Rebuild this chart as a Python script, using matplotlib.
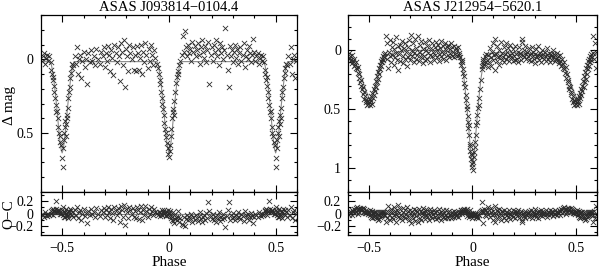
import matplotlib

matplotlib.use("Agg")
import matplotlib.pyplot as plt
import numpy as np
from matplotlib.ticker import FuncFormatter, MultipleLocator

plt.rcParams["font.family"] = ["Liberation Serif", "DejaVu Serif"]

TITLES = ["ASAS J093814\u22120104.4", "ASAS J212954\u22125620.1"]

# ---- ASAS J093814-0104.4: phase-folded data in [-0.5, 0.5) ----
L_PHASE = [
    -0.499, -0.497, -0.495, -0.492, -0.490, -0.487, -0.485, -0.483, -0.480, -0.478,
    -0.476, -0.474, -0.471, -0.468, -0.465, -0.462, -0.458, -0.455, -0.452, -0.448,
    -0.440, -0.435, -0.430, -0.425, -0.420, -0.415, -0.410, -0.405, -0.400, -0.395,
    -0.390, -0.385, -0.380, -0.370, -0.365, -0.360, -0.350, -0.345, -0.340, -0.330,
    -0.325, -0.320, -0.310, -0.305, -0.300, -0.295, -0.290, -0.285, -0.280, -0.275,
    -0.270, -0.265, -0.260, -0.255, -0.250, -0.245, -0.240, -0.235, -0.230, -0.225,
    -0.220, -0.215, -0.210, -0.205, -0.200, -0.195, -0.190, -0.185, -0.180, -0.175,
    -0.170, -0.165, -0.160, -0.155, -0.150, -0.145, -0.140, -0.135, -0.130, -0.125,
    -0.120, -0.115, -0.110, -0.105, -0.100, -0.095, -0.090, -0.085, -0.080, -0.075,
    -0.070, -0.065, -0.055, -0.050, -0.046, -0.043, -0.040, -0.037, -0.034, -0.031,
    -0.028, -0.025, -0.021, -0.018, -0.014, -0.010, -0.006, -0.003, 0.000, 0.003,
    0.006, 0.009, 0.012, 0.016, 0.019, 0.022, 0.026, 0.030, 0.034, 0.038,
    0.042, 0.047, 0.052, 0.060, 0.065, 0.070, 0.075, 0.080, 0.085, 0.090,
    0.095, 0.100, 0.105, 0.110, 0.115, 0.120, 0.125, 0.130, 0.135, 0.140,
    0.145, 0.150, 0.155, 0.160, 0.165, 0.170, 0.175, 0.180, 0.185, 0.190,
    0.195, 0.200, 0.205, 0.210, 0.215, 0.220, 0.225, 0.230, 0.235, 0.240,
    0.245, 0.250, 0.255, 0.260, 0.265, 0.270, 0.275, 0.280, 0.285, 0.290,
    0.295, 0.300, 0.305, 0.310, 0.315, 0.320, 0.325, 0.330, 0.335, 0.340,
    0.345, 0.350, 0.355, 0.360, 0.365, 0.370, 0.375, 0.380, 0.385, 0.390,
    0.395, 0.400, 0.405, 0.410, 0.415, 0.420, 0.425, 0.430, 0.435, 0.440,
    0.446, 0.450, 0.452, 0.455, 0.458, 0.460, 0.463, 0.466, 0.470, 0.473,
    0.476, 0.479, 0.482, 0.485, 0.488, 0.492, 0.495, 0.044, 0.018, -0.012,
]
L_MAG = [
    0.67, 0.73, 0.60, 0.55, 0.50, 0.46, 0.42, 0.52, 0.44, 0.38,
    0.40, 0.33, 0.26, 0.22, 0.19, 0.13, 0.09, 0.06, 0.03, 0.04,
    -0.02, 0.03, -0.08, 0.10, 0.00, -0.03, 0.13, 0.01, -0.05, 0.05,
    0.00, 0.17, -0.04, 0.02, -0.06, 0.01, -0.02, 0.04, -0.07, 0.00,
    0.03, -0.05, -0.02, -0.08, 0.05, -0.04, 0.01, -0.09, -0.03, 0.08,
    -0.06, -0.01, 0.11, -0.10, -0.04, 0.02, -0.08, -0.02, 0.15, -0.11,
    -0.05, 0.04, -0.13, 0.19, -0.07, -0.02, 0.08, -0.10, -0.04, 0.00,
    -0.08, 0.07, -0.03, 0.08, -0.09, -0.04, 0.07, -0.01, -0.10, 0.10,
    -0.05, 0.02, -0.11, -0.03, 0.06, -0.07, 0.01, -0.10, -0.03, 0.04,
    -0.06, -0.01, 0.03, 0.06, 0.10, 0.14, 0.17, 0.22, 0.26, 0.30,
    0.34, 0.38, 0.43, 0.47, 0.53, 0.57, 0.60, 0.64, 0.66, 0.62,
    0.58, 0.52, 0.47, 0.40, 0.34, 0.38, 0.28, 0.22, 0.16, 0.12,
    0.08, 0.04, 0.01, -0.03, -0.16, -0.05, -0.19, -0.08, -0.02, -0.10,
    -0.04, -0.07, 0.01, -0.12, -0.05, -0.09, -0.02, -0.06, -0.11, -0.03,
    0.03, -0.08, -0.13, -0.05, -0.01, -0.09, 0.02, -0.06, -0.12, 0.17,
    -0.03, -0.08, 0.01, -0.10, -0.05, -0.13, -0.02, -0.07, 0.04, -0.11,
    -0.04, -0.08, 0.00, -0.06, -0.21, -0.03, 0.07, 0.19, -0.09, -0.02,
    -0.06, 0.02, -0.05, -0.10, -0.01, -0.07, 0.03, -0.04, -0.08, 0.01,
    -0.03, -0.11, 0.05, -0.02, -0.06, 0.00, -0.09, -0.04, 0.02, -0.03,
    -0.14, -0.05, 0.01, -0.02, -0.04, 0.03, -0.01, -0.03, 0.01, -0.02,
    0.02, 0.07, 0.10, 0.14, 0.12, 0.18, 0.22, 0.26, 0.31, 0.36,
    0.35, 0.40, 0.46, 0.50, 0.52, 0.56, 0.58, 0.10, 0.36, 0.50,
]
L_RESID = [
    0.05, 0.11, -0.02, 0.03, -0.05, 0.02, -0.06, 0.08, 0.00, -0.04,
    0.03, -0.02, -0.08, 0.04, 0.07, -0.01, 0.05, -0.03, 0.02, -0.06,
    0.06, -0.03, 0.10, -0.08, 0.02, 0.05, -0.11, 0.00, 0.07, -0.04,
    0.01, -0.15, 0.04, -0.02, 0.08, -0.01, 0.03, -0.05, 0.09, 0.00,
    -0.04, 0.06, 0.02, 0.09, -0.06, 0.05, -0.02, 0.10, 0.03, -0.07,
    0.07, 0.01, -0.10, 0.11, 0.04, -0.03, 0.09, 0.02, -0.13, 0.12,
    0.06, -0.05, 0.14, -0.18, 0.08, 0.03, -0.07, 0.11, 0.05, 0.00,
    0.09, -0.06, 0.04, -0.08, 0.10, 0.05, -0.09, 0.02, 0.12, -0.11,
    0.06, -0.02, 0.12, 0.04, -0.05, 0.08, 0.00, 0.11, 0.04, -0.03,
    0.07, 0.02, 0.01, -0.02, 0.03, -0.04, 0.02, -0.01, 0.05, -0.03,
    0.02, 0.06, -0.01, 0.03, -0.04, 0.02, 0.05, -0.03, 0.01, 0.04,
    -0.02, -0.04, -0.08, -0.10, -0.12, -0.03, -0.15, -0.09, -0.06, -0.11,
    -0.05, -0.13, -0.07, -0.17, -0.18, -0.06, -0.20, -0.09, -0.03, -0.11,
    -0.05, -0.08, 0.00, -0.13, -0.06, -0.10, -0.03, -0.07, -0.12, -0.04,
    0.02, -0.09, -0.14, -0.06, -0.02, -0.10, 0.01, -0.07, 0.18, 0.04,
    -0.04, -0.09, 0.00, -0.11, -0.06, -0.14, -0.03, -0.08, 0.03, -0.12,
    -0.05, -0.09, -0.01, -0.07, -0.22, -0.04, 0.06, 0.18, -0.10, -0.03,
    -0.07, 0.01, -0.06, -0.11, -0.02, -0.08, 0.02, -0.05, -0.09, 0.00,
    -0.04, -0.12, 0.04, -0.03, -0.07, -0.01, -0.10, -0.05, 0.01, -0.04,
    -0.15, -0.06, 0.00, -0.03, -0.05, 0.02, -0.02, -0.04, 0.00, -0.03,
    0.00, 0.04, 0.05, 0.07, -0.02, 0.06, 0.04, 0.03, 0.20, 0.07,
    0.02, 0.03, 0.06, 0.05, 0.02, 0.00, -0.01, 0.04, 0.02, -0.03,
]
# fitted light curve: one eclipse profile (offset from minimum, mag)
L_ECL_DT = [-0.056, -0.05, -0.045, -0.04, -0.035, -0.03, -0.025, -0.02, -0.015, -0.01, -0.005,
            0.0, 0.005, 0.01, 0.015, 0.02, 0.025, 0.03, 0.035, 0.04, 0.045, 0.05, 0.056]
L_ECL_MAG = [0.016, 0.04, 0.08, 0.13, 0.19, 0.26, 0.33, 0.41, 0.49, 0.56, 0.61,
             0.635, 0.61, 0.56, 0.49, 0.41, 0.33, 0.26, 0.19, 0.13, 0.08, 0.04, 0.016]
L_ECL_CENTERS = [-0.5, 0.0, 0.5]

# ---- ASAS J212954-5620.1 ----
R_PHASE = [
    -0.498, -0.495, -0.492, -0.490, -0.487, -0.485, -0.482, -0.480, -0.477, -0.475,
    -0.472, -0.470, -0.467, -0.465, -0.462, -0.460, -0.457, -0.455, -0.452, -0.450,
    -0.447, -0.445, -0.442, -0.440, -0.437, -0.435, -0.432, -0.430, -0.427, -0.425,
    -0.420, -0.417, -0.413, -0.410, -0.407, -0.403, -0.400, -0.397, -0.393, -0.390,
    -0.387, -0.383, -0.380, -0.377, -0.373, -0.370, -0.367, -0.363, -0.360, -0.357,
    -0.353, -0.350, -0.347, -0.343, -0.340, -0.337, -0.333, -0.330, -0.327, -0.323,
    -0.320, -0.317, -0.313, -0.310, -0.307, -0.303, -0.300, -0.297, -0.293, -0.290,
    -0.287, -0.283, -0.280, -0.277, -0.273, -0.270, -0.267, -0.263, -0.260, -0.257,
    -0.253, -0.250, -0.247, -0.243, -0.240, -0.237, -0.233, -0.230, -0.227, -0.223,
    -0.220, -0.217, -0.213, -0.210, -0.207, -0.203, -0.200, -0.197, -0.193, -0.190,
    -0.187, -0.183, -0.180, -0.177, -0.173, -0.170, -0.167, -0.163, -0.160, -0.157,
    -0.153, -0.150, -0.147, -0.143, -0.140, -0.137, -0.133, -0.130, -0.127, -0.123,
    -0.120, -0.117, -0.113, -0.110, -0.107, -0.103, -0.100, -0.097, -0.093, -0.090,
    -0.087, -0.083, -0.080, -0.077, -0.073, -0.070, -0.067, -0.063, -0.060, -0.057,
    -0.054, -0.051, -0.048, -0.045, -0.042, -0.039, -0.036, -0.033, -0.030, -0.028,
    -0.026, -0.024, -0.022, -0.020, -0.018, -0.016, -0.014, -0.012, -0.010, -0.008,
    -0.006, -0.004, -0.002, 0.000, 0.002, 0.004, 0.006, 0.008, 0.011, 0.013,
    0.016, 0.019, 0.021, 0.024, 0.027, 0.030, 0.033, 0.036, 0.040, 0.044,
    0.047, 0.050, 0.053, 0.056, 0.060, 0.063, 0.067, 0.070, 0.073, 0.077,
    0.080, 0.083, 0.087, 0.090, 0.093, 0.097, 0.100, 0.103, 0.107, 0.110,
    0.113, 0.117, 0.120, 0.123, 0.127, 0.130, 0.133, 0.137, 0.140, 0.143,
    0.147, 0.150, 0.153, 0.157, 0.160, 0.163, 0.167, 0.170, 0.173, 0.177,
    0.180, 0.183, 0.187, 0.190, 0.193, 0.197, 0.200, 0.203, 0.207, 0.210,
    0.213, 0.217, 0.220, 0.223, 0.227, 0.230, 0.233, 0.237, 0.240, 0.243,
    0.247, 0.250, 0.253, 0.257, 0.260, 0.263, 0.267, 0.270, 0.273, 0.277,
    0.280, 0.283, 0.287, 0.290, 0.293, 0.297, 0.300, 0.303, 0.307, 0.310,
    0.313, 0.317, 0.320, 0.323, 0.327, 0.330, 0.333, 0.337, 0.340, 0.343,
    0.347, 0.350, 0.353, 0.357, 0.360, 0.363, 0.367, 0.370, 0.373, 0.377,
    0.380, 0.383, 0.387, 0.390, 0.393, 0.397, 0.400, 0.403, 0.407, 0.410,
    0.413, 0.417, 0.420, 0.423, 0.427, 0.430, 0.433, 0.437, 0.440, 0.443,
    0.446, 0.449, 0.452, 0.455, 0.458, 0.461, 0.464, 0.467, 0.470, 0.473,
    0.476, 0.479, 0.482, 0.485, 0.488, 0.491, 0.494, 0.497, -0.050, 0.052,
]
R_MAG = [
    0.44, 0.46, 0.41, 0.43, 0.39, 0.45, 0.36, 0.40, 0.33, 0.38,
    0.30, 0.34, 0.26, 0.31, 0.22, 0.27, 0.18, 0.24, 0.15, 0.20,
    0.12, 0.16, 0.09, 0.13, 0.07, 0.10, 0.05, 0.08, 0.03, 0.06,
    0.02, -0.12, 0.07, -0.06, 0.15, 0.01, -0.09, 0.05, 0.10, -0.03,
    0.04, -0.07, 0.12, -0.01, 0.06, -0.11, 0.02, 0.08, -0.04, 0.17,
    0.03, -0.05, 0.09, 0.00, -0.08, 0.05, 0.11, -0.02, 0.07, -0.06,
    0.01, 0.13, -0.03, 0.06, -0.09, 0.03, 0.08, -0.13, 0.00, 0.05,
    -0.06, 0.10, 0.02, -0.10, 0.07, -0.02, 0.04, -0.12, 0.09, 0.01,
    -0.05, 0.06, -0.08, 0.03, 0.11, -0.01, 0.05, -0.07, 0.08, 0.00,
    -0.04, 0.07, 0.02, -0.09, 0.04, 0.10, -0.02, 0.05, -0.06, 0.01,
    0.08, -0.03, 0.04, -0.07, 0.00, 0.06, -0.05, 0.03, 0.09, -0.02,
    0.05, -0.08, 0.01, 0.07, -0.04, 0.03, -0.06, 0.08, 0.00, -0.03,
    0.04, -0.05, 0.06, -0.01, 0.02, -0.06, 0.05, -0.03, 0.01, 0.06,
    -0.04, 0.03, -0.02, 0.05, 0.00, -0.03, 0.04, 0.02, 0.06, 0.09,
    0.12, 0.10, 0.16, 0.19, 0.22, 0.28, 0.31, 0.38, 0.42, 0.50,
    0.47, 0.56, 0.61, 0.66, 0.63, 0.72, 0.81, 0.79, 0.85, 0.88,
    0.92, 0.89, 0.96, 0.99, 1.01, 0.95, 0.90, 0.86, 0.82, 0.78,
    0.72, 0.63, 0.61, 0.55, 0.49, 0.46, 0.40, 0.33, 0.25, 0.16,
    0.13, 0.09, 0.07, 0.12, 0.05, 0.10, 0.03, 0.08, 0.14, 0.04,
    0.10, -0.02, 0.06, 0.13, 0.01, 0.08, -0.06, 0.04, -0.10, 0.17,
    0.03, 0.09, -0.04, 0.06, 0.12, 0.00, 0.05, -0.07, 0.08, 0.02,
    0.06, -0.03, 0.10, 0.03, -0.06, 0.07, 0.01, 0.05, -0.02, 0.09,
    0.04, -0.05, 0.06, 0.02, 0.09, -0.01, 0.05, 0.08, -0.04, 0.03,
    0.07, 0.01, 0.10, -0.03, 0.05, 0.02, 0.08, -0.07, -0.10, 0.04,
    0.00, 0.06, -0.04, 0.03, 0.07, 0.01, 0.05, -0.02, 0.08, 0.04,
    0.02, 0.09, -0.03, 0.05, 0.01, 0.07, 0.11, 0.03, -0.01, 0.06,
    0.04, -0.04, 0.08, 0.02, 0.05, 0.10, 0.00, 0.06, 0.03, 0.07,
    0.01, 0.05, 0.09, -0.02, 0.04, 0.07, 0.02, 0.06, 0.10, 0.03,
    0.05, 0.08, 0.00, 0.06, 0.03, 0.09, 0.04, 0.07, 0.02, 0.05,
    0.08, 0.11, 0.04, 0.09, 0.13, 0.07, 0.12, 0.15, 0.10, 0.16,
    0.19, 0.14, 0.23, 0.20, 0.27, 0.25, 0.30, 0.33, 0.31, 0.37,
    0.35, 0.41, 0.39, 0.44, 0.42, 0.46, 0.43, 0.45, 0.08, 0.11,
]
R_RESID = [
    0.02, 0.05, -0.03, 0.00, -0.05, 0.04, -0.07, 0.01, -0.06, 0.03,
    -0.04, 0.02, -0.06, 0.03, -0.08, 0.01, -0.10, 0.00, -0.09, -0.02,
    -0.05, 0.01, -0.04, 0.03, -0.02, 0.02, -0.01, 0.03, -0.02, 0.02,
    -0.02, -0.14, 0.04, -0.08, 0.12, -0.02, -0.11, 0.03, 0.08, -0.05,
    0.02, -0.09, 0.10, -0.03, 0.04, -0.13, 0.00, 0.06, -0.06, 0.14,
    0.01, -0.07, 0.07, -0.02, -0.10, 0.03, 0.09, -0.04, 0.05, -0.08,
    -0.01, 0.11, -0.05, 0.04, -0.11, 0.01, 0.06, -0.15, -0.02, 0.03,
    -0.08, 0.08, 0.00, -0.12, 0.05, -0.04, 0.02, -0.14, 0.07, -0.01,
    -0.07, 0.04, -0.10, 0.01, 0.09, -0.03, 0.03, -0.09, 0.06, -0.02,
    -0.06, 0.05, 0.00, -0.11, 0.02, 0.08, -0.04, 0.03, -0.08, -0.01,
    0.06, -0.05, 0.02, -0.09, -0.02, 0.04, -0.07, 0.01, 0.07, -0.04,
    0.03, -0.10, -0.01, 0.05, -0.06, 0.01, -0.08, 0.06, -0.02, -0.05,
    0.02, -0.07, 0.04, -0.03, 0.00, -0.08, 0.03, -0.05, -0.01, 0.04,
    -0.06, 0.01, -0.04, 0.03, -0.02, -0.05, 0.02, 0.00, 0.03, 0.05,
    0.06, 0.02, 0.05, 0.06, 0.04, 0.07, 0.03, 0.06, 0.02, 0.07,
    -0.04, 0.03, 0.02, 0.03, -0.05, 0.00, 0.05, -0.03, 0.00, -0.02,
    -0.01, -0.07, -0.02, -0.01, 0.01, -0.02, -0.03, -0.02, 0.00, 0.01,
    0.00, -0.06, -0.04, -0.05, -0.07, -0.02, -0.03, 0.02, 0.04, 0.05,
    0.18, 0.04, -0.15, 0.08, -0.02, 0.05, -0.04, 0.03, 0.10, 0.00,
    0.06, -0.06, 0.02, 0.09, -0.03, 0.04, -0.10, 0.00, -0.13, 0.13,
    -0.01, 0.05, -0.08, 0.02, 0.08, -0.04, 0.01, -0.11, 0.04, -0.02,
    0.02, -0.07, 0.06, -0.01, -0.10, 0.03, -0.03, 0.01, -0.06, 0.05,
    0.00, -0.09, 0.02, -0.02, 0.05, -0.05, 0.01, 0.04, -0.08, -0.01,
    0.03, -0.03, 0.06, -0.07, 0.01, -0.02, 0.04, -0.11, -0.14, 0.00,
    -0.04, 0.02, -0.08, -0.01, 0.03, -0.03, 0.01, -0.06, 0.04, 0.00,
    -0.02, 0.05, -0.07, 0.01, -0.03, 0.03, 0.07, -0.01, -0.05, 0.02,
    0.00, -0.08, 0.04, -0.02, 0.01, 0.06, -0.04, 0.02, -0.01, 0.03,
    -0.03, 0.01, 0.05, -0.06, 0.00, 0.03, -0.02, 0.02, 0.06, -0.01,
    0.01, 0.04, -0.04, 0.02, -0.01, 0.05, 0.00, 0.03, -0.02, 0.01,
    0.03, 0.06, -0.02, 0.04, 0.08, 0.01, 0.06, 0.09, 0.03, 0.10,
    0.07, 0.00, 0.08, 0.03, 0.09, 0.05, 0.07, 0.08, 0.03, 0.09,
    0.02, 0.07, 0.01, 0.05, 0.01, 0.04, 0.00, 0.02, 0.00, 0.02,
]
R_MODEL_PHASE = [-0.60, -0.58, -0.56, -0.54, -0.52, -0.50, -0.49, -0.48, -0.47, -0.46,
                 -0.45, -0.44, -0.43, -0.40, -0.35, -0.30, -0.20, -0.10, -0.07, -0.06,
                 -0.05, -0.04, -0.03, -0.02, -0.01, -0.005, 0.0, 0.005, 0.01, 0.02,
                 0.03, 0.04, 0.05, 0.06, 0.07, 0.10, 0.20, 0.30, 0.35, 0.40,
                 0.42, 0.44, 0.46, 0.48, 0.50, 0.51, 0.52, 0.53, 0.54, 0.55,
                 0.56, 0.57, 0.60]
R_MODEL_MAG = [0.06, 0.08, 0.12, 0.20, 0.31, 0.40, 0.41, 0.38, 0.32, 0.24,
               0.16, 0.10, 0.06, 0.03, 0.01, 0.00, 0.00, 0.01, 0.03, 0.06,
               0.13, 0.25, 0.42, 0.62, 0.84, 0.93, 0.97, 0.93, 0.84, 0.62,
               0.42, 0.25, 0.13, 0.06, 0.03, 0.02, 0.02, 0.03, 0.04, 0.06,
               0.08, 0.12, 0.20, 0.31, 0.40, 0.41, 0.38, 0.32, 0.24, 0.16,
               0.10, 0.06, 0.03]


def wrap(phase, values):
    """Repeat the folded points that fall into the extra 0.1 on each side."""
    phase = np.asarray(phase)
    values = np.asarray(values)
    lo = phase < -0.4
    hi = phase > 0.4
    return (np.concatenate([phase, phase[lo] + 1, phase[hi] - 1]),
            np.concatenate([values, values[lo], values[hi]]))


def left_model():
    ph, mg = [], []
    for c in L_ECL_CENTERS:
        ph += [c + d for d in L_ECL_DT]
        mg += L_ECL_MAG
    ph = [-0.6] + ph + [0.6]
    mg = [L_ECL_MAG[0]] + mg + [L_ECL_MAG[0]]
    return ph, mg


fmt = FuncFormatter(lambda v, _: f"{v:g}".replace("-", "\u2212"))
PT_COLOR = "#2a2a2a"
LINE_COLOR = "#8a8a8a"
FS = 10


def style(ax):
    ax.tick_params(which="both", direction="in", top=True, right=True,
                   labelsize=FS, width=0.8, pad=5)
    ax.tick_params(which="major", length=5)
    ax.tick_params(which="minor", length=2.5)
    ax.xaxis.set_major_locator(MultipleLocator(0.5))
    ax.xaxis.set_minor_locator(MultipleLocator(0.1))
    ax.xaxis.set_major_formatter(fmt)
    ax.yaxis.set_major_formatter(fmt)
    for s in ax.spines.values():
        s.set_linewidth(0.9)
    ax.set_xlim(-0.6, 0.6)


fig = plt.figure(figsize=(6.0, 2.68), dpi=100)
panels = [
    (0.068, 0.427, L_PHASE, L_MAG, L_RESID, left_model(), (0.9, -0.3)),
    (0.580, 0.415, R_PHASE, R_MAG, R_RESID, (R_MODEL_PHASE, R_MODEL_MAG), (1.2, -0.3)),
]
for i, (x0, w, ph, mg, rs, model, ylim) in enumerate(panels):
    ax = fig.add_axes([x0, 0.2836, w, 0.6604])
    axr = fig.add_axes([x0, 0.123, w, 0.1606], sharex=ax)
    style(ax)
    style(axr)

    p, m = wrap(ph, mg)
    ax.plot(model[0], model[1], color=LINE_COLOR, lw=0.8, zorder=1)
    ax.scatter(p, m, marker="x", s=14, color=PT_COLOR, linewidths=0.6, zorder=2)
    ax.set_ylim(*ylim)
    ax.yaxis.set_major_locator(MultipleLocator(0.5))
    ax.yaxis.set_minor_locator(MultipleLocator(0.1))
    ax.tick_params(labelbottom=False)
    ax.set_title(TITLES[i], fontsize=10.5, pad=3)

    p, r = wrap(ph, rs)
    axr.axhline(0, color=LINE_COLOR, lw=0.8, zorder=1)
    axr.scatter(p, r, marker="x", s=14, color=PT_COLOR, linewidths=0.6, zorder=2)
    axr.set_ylim(-0.35, 0.35)
    axr.yaxis.set_major_locator(MultipleLocator(0.2))
    axr.yaxis.set_minor_locator(MultipleLocator(0.1))
    axr.set_xlabel("Phase", fontsize=11, labelpad=1)

fig.text(9 / 600, 1 - 105 / 268, "\u0394 mag", rotation=90, ha="center", va="center", fontsize=11)
fig.text(9 / 600, 1 - 214 / 268, "O\u2212C", rotation=90, ha="center", va="center", fontsize=11)

fig.savefig("out.png", dpi=100)
